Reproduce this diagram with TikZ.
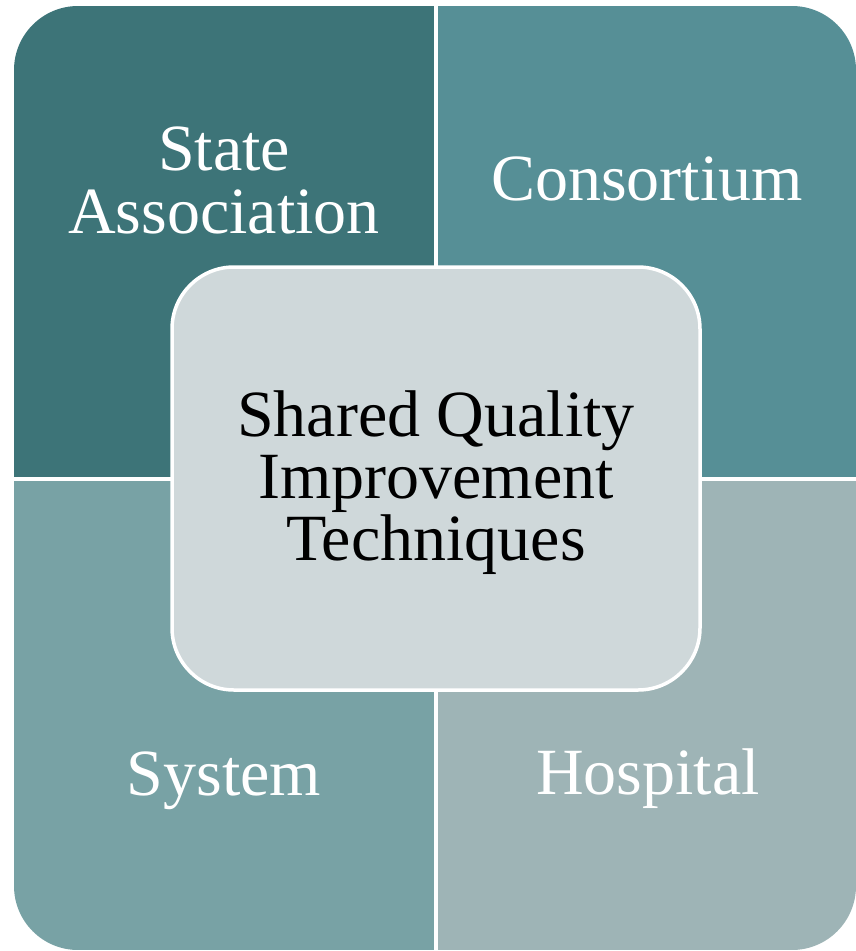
\documentclass[tikz,border=0pt]{standalone}
\usepackage{fontspec}
\setmainfont{Liberation Serif}
\usetikzlibrary{positioning}

\definecolor{stateteal}{HTML}{3D7478}
\definecolor{consteal}{HTML}{568F96}
\definecolor{systeal}{HTML}{78A2A5}
\definecolor{hospgray}{HTML}{9EB4B6}
\definecolor{coregray}{HTML}{CFD8DA}

\begin{document}
\begin{tikzpicture}[x=1pt,y=-1pt,
    quadlabel/.style={text=white,align=center,inner sep=0pt,
        font=\fontsize{66}{63}\selectfont},
    corebox/.style={draw=white,line width=3.5pt,fill=coregray,rounded corners=62pt,
        minimum width=528pt,minimum height=423pt,align=center,inner sep=0pt,
        font=\fontsize{66}{62}\selectfont}]
\useasboundingbox (0,0) rectangle (856,951);

% Four quadrants, clipped to one rounded outline
\begin{scope}
\clip[rounded corners=64pt] (14,6) rectangle (856,950);
\fill[stateteal] (14,6) rectangle (434,477);
\fill[consteal] (438,6) rectangle (856,477);
\fill[systeal] (14,481) rectangle (434,950);
\fill[hospgray] (438,481) rectangle (856,950);
\end{scope}

% Labels of the quadrants
\node[quadlabel] (state) at (224,180) {State\\Association};
\node[quadlabel] (consortium) at (647,179) {Consortium};
\node[quadlabel] (system) at (224,781) {System};
\node[quadlabel] (hospital) at (648,779) {Hospital};

% Centre box
\node[corebox] (core) at (436,478.5) {};
\node (coretext) at ([yshift=-4pt]core.center) [align=center,inner sep=0pt,
    font=\fontsize{66}{62}\selectfont] {Shared Quality\\Improvement\\Techniques};
\end{tikzpicture}
\end{document}
